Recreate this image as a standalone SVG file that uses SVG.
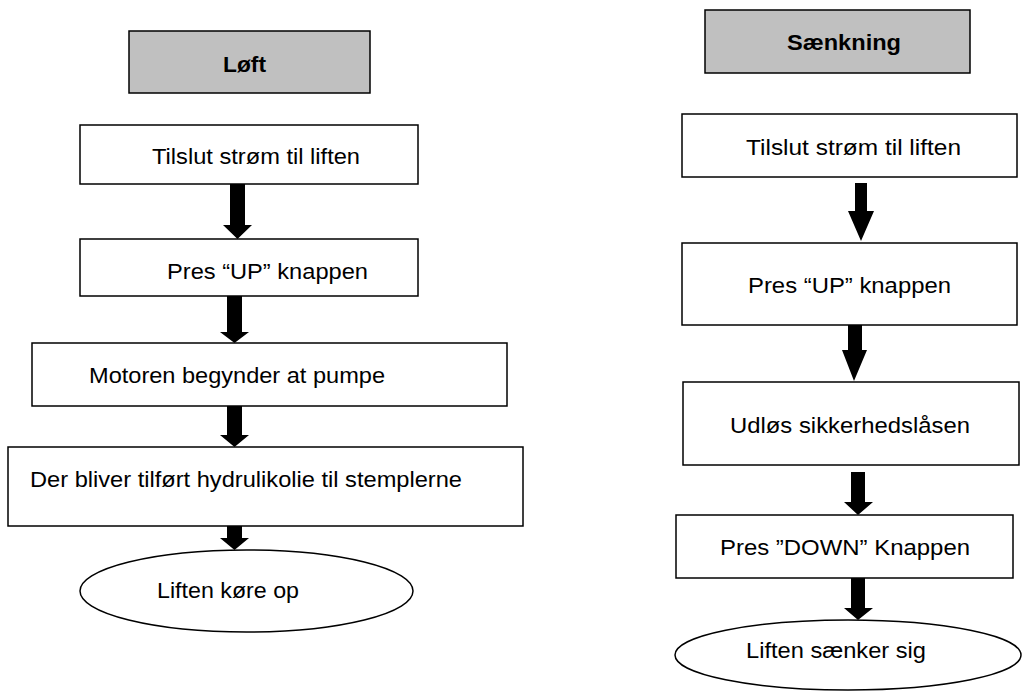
<svg xmlns="http://www.w3.org/2000/svg" width="1026" height="697" viewBox="0 0 1026 697">
<style>
.box{fill:#fff;stroke:#000;stroke-width:1.5}
.title{fill:#c0c0c0;stroke:#000;stroke-width:1.5}
.t{font-family:"Liberation Sans",Arial,sans-serif;font-size:22px;fill:#000}
.b{font-weight:bold}
.arr{fill:#000}
</style>
<rect width="1026" height="697" fill="#fff"/>
<g id="loeft"><rect class="title" x="129" y="31" width="241" height="62"/><text class="t b" x="223" y="72" textLength="43" lengthAdjust="spacingAndGlyphs">Løft</text></g>
<g id="l1"><rect class="box" x="80" y="125" width="338" height="59"/><text class="t" x="152" y="164" textLength="208" lengthAdjust="spacingAndGlyphs">Tilslut strøm til liften</text></g>
<g id="l2"><rect class="box" x="80" y="239" width="338" height="57"/><text class="t" x="167" y="279" textLength="201" lengthAdjust="spacingAndGlyphs">Pres “UP” knappen</text></g>
<g id="l3"><rect class="box" x="32" y="343" width="475" height="63"/><text class="t" x="89" y="383" textLength="296" lengthAdjust="spacingAndGlyphs">Motoren begynder at pumpe</text></g>
<g id="l4"><rect class="box" x="8" y="447" width="515" height="79"/><text class="t" x="30" y="487" textLength="432" lengthAdjust="spacingAndGlyphs">Der bliver tilført hydrulikolie til stemplerne</text></g>
<g id="l5"><ellipse class="box" cx="246.5" cy="591" rx="166.5" ry="41"/><text class="t" x="157" y="598" textLength="142" lengthAdjust="spacingAndGlyphs">Liften køre op</text></g>

<g id="saenkning"><rect class="title" x="705" y="10" width="265" height="63"/><text class="t b" x="787" y="50" textLength="114" lengthAdjust="spacingAndGlyphs">Sænkning</text></g>
<g id="r1"><rect class="box" x="682" y="114" width="335" height="63"/><text class="t" x="746" y="155" textLength="215" lengthAdjust="spacingAndGlyphs">Tilslut strøm til liften</text></g>
<g id="r2"><rect class="box" x="682" y="243" width="335" height="82"/><text class="t" x="748" y="293" textLength="203" lengthAdjust="spacingAndGlyphs">Pres “UP” knappen</text></g>
<g id="r3"><rect class="box" x="683" y="382" width="336" height="83"/><text class="t" x="730" y="433" textLength="240" lengthAdjust="spacingAndGlyphs">Udløs sikkerhedslåsen</text></g>
<g id="r4"><rect class="box" x="676" y="515" width="337" height="63"/><text class="t" x="720" y="555" textLength="250" lengthAdjust="spacingAndGlyphs">Pres ”DOWN” Knappen</text></g>
<g id="r5"><ellipse class="box" cx="848" cy="655" rx="173" ry="35"/><text class="t" x="746" y="658" textLength="180" lengthAdjust="spacingAndGlyphs">Liften sænker sig</text></g>

<g id="connectors">
<polygon class="arr" points="230,184 245,184 245,225 252,225 237.5,239 223,225 230,225"/>
<polygon class="arr" points="227,296 242,296 242,332 249,332 234.5,343 220,332 227,332"/>
<polygon class="arr" points="227,406 242,406 242,435 249,435 234.5,447 220,435 227,435"/>
<polygon class="arr" points="227,526 242,526 242,538 249,538 234.5,550 220,538 227,538"/>
<polygon class="arr" points="855,183 867,183 867,211 874,211 861,241 848,211 855,211"/>
<polygon class="arr" points="848,325 862,325 862,350 867,350 854,381 842,350 848,350"/>
<polygon class="arr" points="851,472 865,472 865,502 873,502 858,515 844,502 851,502"/>
<polygon class="arr" points="851,578 865,578 865,608 873,608 858,620 844,608 851,608"/>
</g>
</svg>
